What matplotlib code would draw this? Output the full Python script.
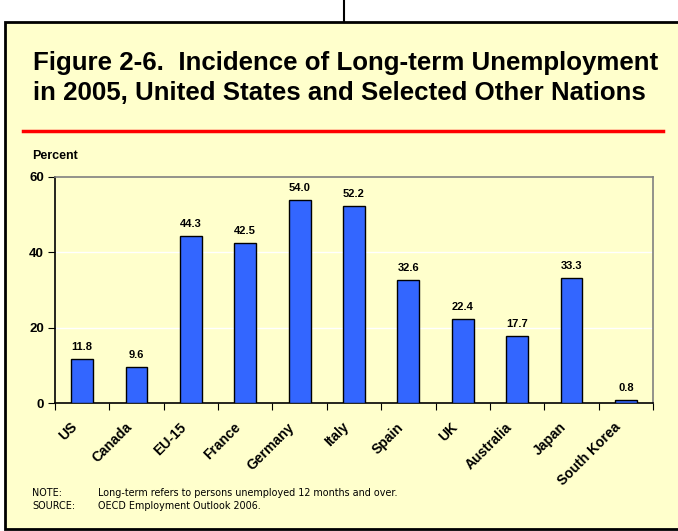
import matplotlib
matplotlib.use('Agg')
import matplotlib.pyplot as plt
from matplotlib.patches import Rectangle
from matplotlib.lines import Line2D
from matplotlib.transforms import ScaledTranslation
import numpy as np

countries = ['US', 'Canada', 'EU-15', 'France', 'Germany', 'Italy', 'Spain',
             'UK', 'Australia', 'Japan', 'South Korea']
percent = [11.8, 9.6, 44.3, 42.5, 54.0, 52.2, 32.6, 22.4, 17.7, 33.3, 0.8]
yticks = [0, 20, 40, 60]

title_lines = ['Figure 2-6.  Incidence of Long-term Unemployment',
               'in 2005, United States and Selected Other Nations']
note_keys = ['NOTE:', 'SOURCE:']
note_texts = ['Long-term refers to persons unemployed 12 months and over.',
              'OECD Employment Outlook 2006.']

cream = '#FFFFCC'
W, H = 678, 531

plt.rcParams['font.family'] = ['Liberation Sans', 'DejaVu Sans']

fig = plt.figure(figsize=(W / 100, H / 100), dpi=100)
fig.patch.set_facecolor('white')

def fx(px):
    return px / W

def fy(py):
    return 1 - py / H

# outer box and connector line
fig.add_artist(Rectangle((fx(5), fy(529)), fx(700) - fx(5), fy(22) - fy(529),
                         transform=fig.transFigure, facecolor=cream,
                         edgecolor='black', lw=2, zorder=0))
fig.add_artist(Line2D([fx(344), fx(344)], [fy(0), fy(22)],
                      transform=fig.transFigure, color='black', lw=1.5))

for i, line in enumerate(title_lines):
    fig.text(fx(33), fy(70 + 30 * i), line, fontsize=18.6, fontweight='bold',
             va='baseline', ha='left')
fig.add_artist(Line2D([fx(23), fx(663)], [fy(131), fy(131)],
                      transform=fig.transFigure, color='red', lw=2.5))

fig.text(fx(32), fy(156), 'Percent', fontsize=9, fontweight='bold',
         va='center', ha='left')

ax = fig.add_axes([fx(55), fy(403), fx(653) - fx(55), fy(177) - fy(403)])
ax.set_facecolor(cream)
x = np.arange(len(countries))
bars = ax.bar(x, percent, width=0.4, color='#3366FF', edgecolor='black',
              lw=1, zorder=3)
for xi, v in zip(x, percent):
    ax.annotate(f'{v:.1f}', (xi, v), xytext=(0, 5), textcoords='offset points',
                ha='center', va='bottom', fontsize=8, fontweight='bold')

ax.set_xlim(-0.5, len(countries) - 0.5)
ax.set_ylim(0, 60)
ax.set_yticks(yticks)
ax.set_yticklabels([str(t) for t in yticks], fontsize=9.5, fontweight='bold')
for t in yticks[1:-1]:
    ax.axhline(t, color='white', lw=1, zorder=1)

# ticks sit between the categories, labels are drawn by hand
ax.set_xticks(np.arange(len(countries) + 1) - 0.5)
ax.set_xticklabels([])
ax.tick_params(axis='x', length=5, direction='out', color='black')
ax.tick_params(axis='y', length=5, direction='out', pad=3)
lab_tr = ax.get_xaxis_transform() + ScaledTranslation(-12 / 100, -17 / 100,
                                                       fig.dpi_scale_trans)
for xi, name in zip(x, countries):
    ax.text(xi, 0, name, transform=lab_tr, rotation=45, ha='right', va='top',
            rotation_mode='anchor', fontsize=10, fontweight='bold',
            clip_on=False)

ax.spines['left'].set_color('black')
ax.spines['bottom'].set_color('black')
ax.spines['top'].set_color('#808080')
ax.spines['right'].set_color('#808080')
for s in ax.spines.values():
    s.set_linewidth(1.2)

narrow = ['Liberation Sans Narrow', 'DejaVu Sans']
for i, (k, t) in enumerate(zip(note_keys, note_texts)):
    yb = 496 + 13 * i
    fig.text(fx(32), fy(yb), k, fontsize=6.9, family=narrow, va='baseline')
    fig.text(fx(98), fy(yb), t, fontsize=6.9, family=narrow, va='baseline')

fig.savefig('out.png', dpi=100, facecolor=fig.get_facecolor())
